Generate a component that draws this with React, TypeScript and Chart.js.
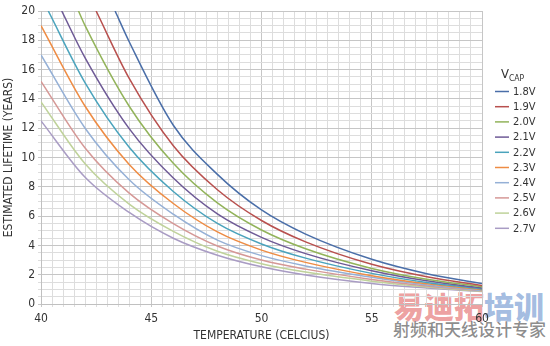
import React, { useEffect, useRef } from 'react';
import { Chart, registerables } from 'chart.js';

Chart.register(...registerables);

const FONT = "'Liberation Sans Narrow', 'Arial Narrow', 'DejaVu Sans Condensed', sans-serif";

// Temperatures (°C) at which the curves were read
const temps = [40, 42, 44, 46, 48, 50, 52, 55, 57.5, 60];

// Series labels and colours
const vcapLabels = ['1.8V', '1.9V', '2.0V', '2.1V', '2.2V', '2.3V', '2.4V', '2.5V', '2.6V', '2.7V'];
const vcapColors = ['#4a6ea8', '#b8504e', '#92b35a', '#6e5a96', '#4aa3bc', '#ee8c44', '#95b0d6', '#d59896', '#bfd29a', '#a99cc4'];

// Temperature at which each curve enters the chart from the top (20 years); null = starts at 40°C
const entryTemps = [43.36, 42.5, 41.7, 40.94, 40.33, null, null, null, null, null];

// Estimated lifetime (years) at each temperature in `temps`
const life18 = [null, null, 17.9, 12.2, 8.85, 6.42, 4.77, 3.05, 2.07, 1.4];
const life19 = [null, null, 15.4, 10.8, 7.8, 5.7, 4.24, 2.71, 1.86, 1.27];
const life20 = [null, 19.0, 13.5, 9.6, 6.9, 5.05, 3.77, 2.43, 1.69, 1.18];
const life21 = [null, 16.8, 11.97, 8.6, 6.15, 4.55, 3.44, 2.27, 1.58, 1.1];
const life22 = [null, 15.1, 10.7, 7.68, 5.5, 4.1, 3.13, 2.09, 1.47, 1.03];
const life23 = [19.0, 13.5, 9.53, 6.86, 4.92, 3.68, 2.84, 1.93, 1.375, 0.98];
const life24 = [17.0, 12.0, 8.48, 6.13, 4.36, 3.3, 2.6, 1.82, 1.3, 0.93];
const life25 = [15.2, 10.65, 7.57, 5.49, 3.96, 3.0, 2.38, 1.68, 1.23, 0.9];
const life26 = [13.8, 9.57, 6.82, 4.96, 3.6, 2.75, 2.18, 1.56, 1.16, 0.87];
const life27 = [12.5, 8.65, 6.25, 4.49, 3.33, 2.54, 1.98, 1.4, 1.09, 0.85];

const lifeSeries = [life18, life19, life20, life21, life22, life23, life24, life25, life26, life27];

// Axis ranges and labelled ticks
const xMin = 40, xMax = 60, xLabelEvery = 5;
const yMin = 0, yMax = 20, yLabelEvery = 2;
const gridStep = 0.5;

const legendPlugin = {
  id: 'vcapLegend',
  afterDraw(chart: any) {
    const ctx = chart.ctx;
    ctx.save();
    ctx.fillStyle = '#333';
    ctx.textAlign = 'left';
    ctx.textBaseline = 'alphabetic';
    ctx.font = `13px ${FONT}`;
    ctx.fillText('V', 501, 78);
    const vw = ctx.measureText('V').width;
    ctx.font = `8.5px ${FONT}`;
    ctx.fillText('CAP', 501 + vw, 81);
    chart.data.datasets.forEach((ds: any, i: number) => {
      const y = 91.5 + i * 15.2;
      ctx.strokeStyle = ds.borderColor;
      ctx.lineWidth = 1.5;
      ctx.beginPath();
      ctx.moveTo(495, y);
      ctx.lineTo(509, y);
      ctx.stroke();
      ctx.font = `11px ${FONT}`;
      ctx.textBaseline = 'middle';
      ctx.fillStyle = '#333';
      ctx.fillText(ds.label, 513, y + 0.5);
    });
    ctx.restore();
  },
};

export default function App() {
  const canvasRef = useRef<HTMLCanvasElement>(null);

  useEffect(() => {
    const canvas = canvasRef.current;
    if (!canvas) return;
    const datasets = vcapLabels.map((label, i) => {
      const pts: { x: number; y: number }[] = [];
      const entry = entryTemps[i];
      if (entry !== null) pts.push({ x: entry, y: yMax });
      lifeSeries[i].forEach((v, j) => {
        if (v !== null) pts.push({ x: temps[j], y: v as number });
      });
      return {
        label,
        data: pts,
        borderColor: vcapColors[i],
        backgroundColor: vcapColors[i],
        borderWidth: 1.5,
        pointRadius: 0,
        cubicInterpolationMode: 'monotone' as const,
        fill: false,
      };
    });

    const gridColor = (every: number) => (c: any) =>
      Math.abs(c.tick.value / every - Math.round(c.tick.value / every)) < 1e-6 ? '#c6c6c6' : '#dddddd';

    const chart = new Chart(canvas, {
      type: 'line',
      data: { datasets },
      options: {
        animation: false,
        responsive: false,
        events: [],
        layout: { padding: { top: 11, right: 68, left: 0, bottom: 0 } },
        plugins: { legend: { display: false }, tooltip: { enabled: false } },
        scales: {
          x: {
            type: 'linear',
            min: xMin,
            max: xMax,
            afterFit: (s: any) => { s.height = 42; },
            border: { color: '#c0c0c0', width: 1 },
            grid: { color: gridColor(xLabelEvery), tickLength: 3, lineWidth: 1 },
            ticks: {
              stepSize: gridStep,
              maxTicksLimit: 200,
              autoSkip: false,
              maxRotation: 0,
              padding: 5,
              color: '#333',
              font: { family: FONT, size: 12 },
              callback: (v: any) => (Math.abs(v % xLabelEvery) < 1e-6 ? String(v) : ''),
            },
            title: {
              display: true,
              text: 'TEMPERATURE (CELCIUS)',
              color: '#333',
              font: { family: FONT, size: 12 },
              padding: { top: 0, bottom: 3 },
            },
          },
          y: {
            type: 'linear',
            min: yMin,
            max: yMax,
            afterFit: (s: any) => { s.width = 41; },
            border: { color: '#c0c0c0', width: 1 },
            grid: { color: gridColor(yLabelEvery), tickLength: 3, lineWidth: 1 },
            ticks: {
              stepSize: gridStep,
              maxTicksLimit: 200,
              autoSkip: false,
              padding: 3,
              color: '#333',
              font: { family: FONT, size: 12 },
              callback: (v: any) => (Math.abs(v % yLabelEvery) < 1e-6 ? String(v) : ''),
            },
            title: {
              display: true,
              text: 'ESTIMATED LIFETIME (YEARS)',
              color: '#333',
              font: { family: FONT, size: 12 },
              padding: { top: 2, bottom: 0 },
            },
          },
        },
      },
      plugins: [legendPlugin],
    });
    return () => chart.destroy();
  }, []);

  return (
    <div style={{ position: 'absolute', left: 0, top: 0, width: 550, height: 346, background: '#fff', overflow: 'hidden' }}>
      <div
        style={{
          position: 'absolute',
          left: 394,
          top: 288,
          whiteSpace: 'nowrap',
          fontFamily: "'Noto Sans CJK SC', sans-serif",
          fontWeight: 900,
          fontSize: 30,
          lineHeight: '34px',
        }}
      >
        <span style={{ color: 'rgba(225,100,100,0.62)' }}>易迪拓</span>
        <span style={{ color: 'rgba(105,145,205,0.62)' }}>培训</span>
      </div>
      <div
        style={{
          position: 'absolute',
          left: 393,
          top: 318,
          whiteSpace: 'nowrap',
          fontFamily: "'Noto Sans CJK SC', sans-serif",
          fontWeight: 500,
          fontSize: 17,
          lineHeight: '22px',
          color: 'rgba(120,120,120,0.85)',
        }}
      >
        射频和天线设计专家
      </div>
      <canvas ref={canvasRef} width={550} height={346} style={{ position: 'absolute', left: 0, top: 0 }} />
    </div>
  );
}
